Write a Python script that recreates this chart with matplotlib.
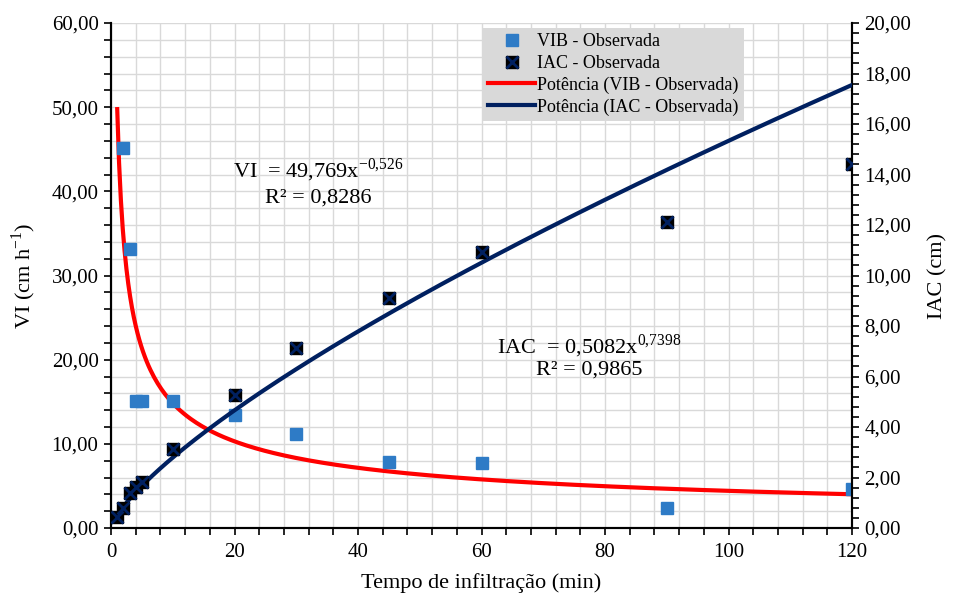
#!/usr/bin/env python3

import numpy as np
import matplotlib
matplotlib.use('Agg')
import matplotlib.pyplot as plt
from matplotlib.lines import Line2D
from matplotlib.ticker import MultipleLocator, FuncFormatter

plt.rcParams['font.family'] = ['Liberation Serif', 'DejaVu Serif']
plt.rcParams['mathtext.fontset'] = 'custom'
plt.rcParams['mathtext.rm'] = 'Liberation Serif'

vib_t = [2, 3, 4, 5, 10, 20, 30, 45, 60, 90, 120]
vib_vals = [45.2, 33.1, 15.1, 15.1, 15.1, 13.4, 11.2, 7.8, 7.7, 2.4, 4.6]
iac_t = [1, 2, 3, 4, 5, 10, 20, 30, 45, 60, 90, 120]
iac_vals = [0.45, 0.80, 1.37, 1.61, 1.83, 3.12, 5.27, 7.13, 9.1, 10.93, 12.12, 14.4]

# power trendline coefficients printed on the chart
vi_a, vi_b = 49.769, -0.526
iac_a, iac_b = 0.5082, 0.7398

RED = '#FF0000'
NAVY = '#002060'
BLUE = '#2E7BC6'
GRID = '#d9d9d9'

def comma(v, pos):
    return ('%.2f' % v).replace('.', ',')

fig = plt.figure(figsize=(9.54, 5.99), dpi=100)
ax = fig.add_axes([0.1164, 0.1185, 0.7767, 0.8431])
ax2 = ax.twinx()

t = np.linspace(1, 120, 400)
ax.plot(t, vi_a * t ** vi_b, color=RED, lw=3, zorder=3)
ax.plot(vib_t, vib_vals, 's', color=BLUE, ms=8, mec=BLUE, zorder=4)

ax2.plot(t, iac_a * t ** iac_b, color=NAVY, lw=3, zorder=3)
ax2.plot(iac_t, iac_vals, 's', color='black', ms=9, zorder=4)
ax2.plot(iac_t, iac_vals, 'x', color=NAVY, ms=8, mew=2, zorder=5)

ax.set_xlim(0, 120)
ax.set_ylim(0, 60)
ax2.set_ylim(0, 20)

ax.xaxis.set_major_locator(MultipleLocator(20))
ax.xaxis.set_minor_locator(MultipleLocator(4))
ax.yaxis.set_major_locator(MultipleLocator(10))
ax.yaxis.set_minor_locator(MultipleLocator(2))
ax2.yaxis.set_major_locator(MultipleLocator(2))
ax2.yaxis.set_minor_locator(MultipleLocator(0.4))
ax.yaxis.set_major_formatter(FuncFormatter(comma))
ax2.yaxis.set_major_formatter(FuncFormatter(comma))

ax.grid(True, which='both', color=GRID, lw=1)
ax.set_axisbelow(True)

for a in (ax, ax2):
    a.tick_params(which='both', direction='out', length=5, width=1.2,
                  labelsize=15, color='black', pad=4)
    a.spines['top'].set_visible(False)
    for s in ('left', 'right', 'bottom'):
        a.spines[s].set_linewidth(1.5)
ax.tick_params(axis='x', pad=6)

ax.set_xlabel('Tempo de infiltração (min)', fontsize=16, labelpad=8)
ax.set_ylabel(r'VI (cm h$^{\mathregular{-1}}$)', fontsize=16, labelpad=10)
ax2.set_ylabel('IAC (cm)', fontsize=16, labelpad=12)

ax.text(33.5, 42.5, r'VI  = 49,769x$^{\mathregular{-0{,}526}}$', fontsize=16,
        ha='center', va='center')
ax.text(33.5, 39.2, 'R² = 0,8286', fontsize=16, ha='center', va='center')
ax.text(77.5, 21.6, r'IAC  = 0,5082x$^{\mathregular{0{,}7398}}$', fontsize=16,
        ha='center', va='center')
ax.text(77.5, 18.8, 'R² = 0,9865', fontsize=16, ha='center', va='center')

handles = [
    Line2D([], [], ls='', marker='s', color=BLUE, ms=8),
    (Line2D([], [], ls='', marker='s', color='black', ms=9),
     Line2D([], [], ls='', marker='x', color=NAVY, ms=8, mew=2)),
    Line2D([], [], color=RED, lw=3),
    Line2D([], [], color=NAVY, lw=3),
]
labels = ['VIB - Observada', 'IAC - Observada',
          'Potência (VIB - Observada)', 'Potência (IAC - Observada)']
leg = ax2.legend(handles, labels, loc='upper left', bbox_to_anchor=(0.502, 0.99),
                 borderaxespad=0, fontsize=13, handlelength=2.6, handletextpad=0.1,
                 labelspacing=0.25, frameon=True, fancybox=False,
                 facecolor=GRID, edgecolor='none', framealpha=1,
                 borderpad=0.3)
leg.set_zorder(10)

fig.savefig('out.png', dpi=100)
